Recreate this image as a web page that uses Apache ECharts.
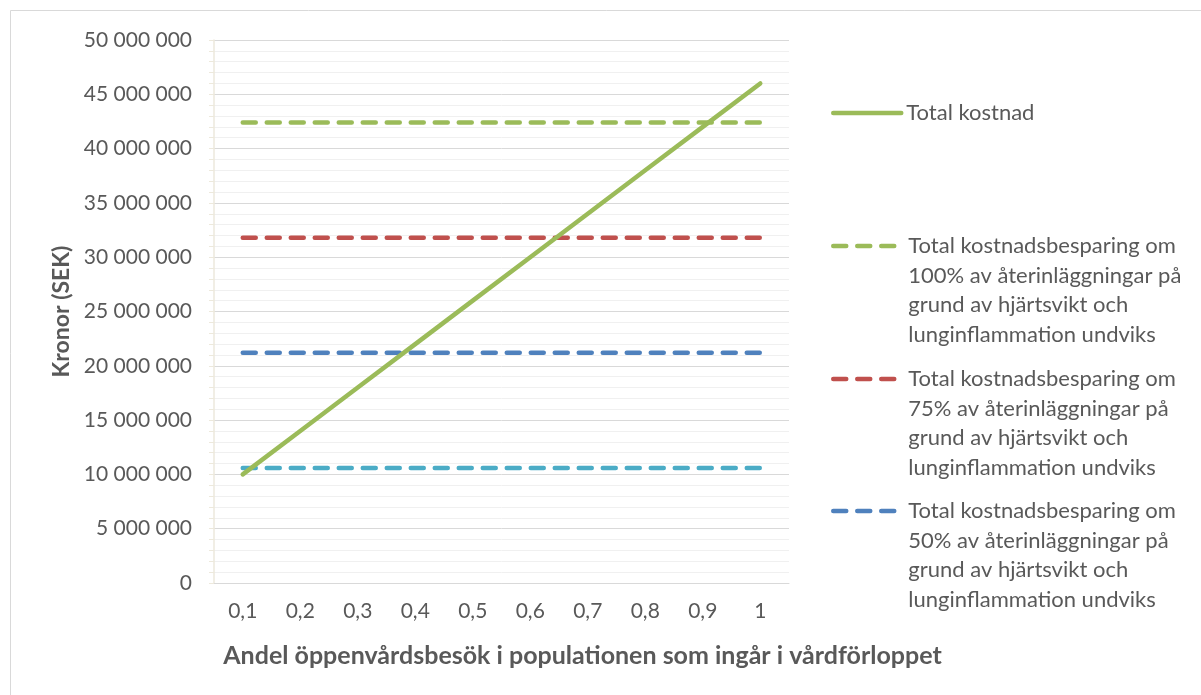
<!DOCTYPE html>
<html>
<head>
<meta charset="utf-8">
<script src="https://cdn.jsdelivr.net/npm/echarts@6/dist/echarts.min.js"></script>
<style>
html,body{margin:0;padding:0;background:#fff;}
#chart{width:1201px;height:695px;}
</style>
</head>
<body>
<div id="chart"></div>
<script>
const categories = ['0,1','0,2','0,3','0,4','0,5','0,6','0,7','0,8','0,9','1'];
const totalKostnad = [10000000,14000000,18000000,22000000,26000000,30000000,34000000,38000000,42000000,46000000];
const besparing100 = [42400000,42400000,42400000,42400000,42400000,42400000,42400000,42400000,42400000,42400000];
const besparing75  = [31800000,31800000,31800000,31800000,31800000,31800000,31800000,31800000,31800000,31800000];
const besparing50  = [21200000,21200000,21200000,21200000,21200000,21200000,21200000,21200000,21200000,21200000];
const besparing25  = [10600000,10600000,10600000,10600000,10600000,10600000,10600000,10600000,10600000,10600000];
const seriesNames = [
  'Total kostnad',
  'Total kostnadsbesparing om 100% av återinläggningar på grund av hjärtsvikt och lunginflammation undviks',
  'Total kostnadsbesparing om 75% av återinläggningar på grund av hjärtsvikt och lunginflammation undviks',
  'Total kostnadsbesparing om 50% av återinläggningar på grund av hjärtsvikt och lunginflammation undviks',
  'Total kostnadsbesparing om 25% av återinläggningar på grund av hjärtsvikt och lunginflammation undviks'
];
const colors = ['#9BBB59','#9BBB59','#C0504D','#4F81BD','#4BACC6'];
const FONT = 'Lato';
const TXT = '#595959';
const DASH = [13, 11];

function wrapName(n){
  if (n === seriesNames[0]) return n;
  const w = n.replace(' om ', ' om\n').replace(' på ', ' på\n').replace(' och ', ' och\n');
  return '\n\n\n' + w;
}
function fmtNum(v){
  return String(Math.round(v)).replace(/\B(?=(\d{3})+(?!\d))/g, ' ');
}
function mkSeries(i, data, dashed){
  return {
    name: seriesNames[i], type: 'line', data: data, symbol: 'none',
    color: colors[i],
    lineStyle: {width: 4.5, color: colors[i], type: dashed ? DASH : 'solid', cap: 'round'},
    animation: false
  };
}
function mkLegend(i, top, width){
  return {
    data: [seriesNames[i]], left: 831, top: top, padding: 0,
    itemWidth: width, itemHeight: 10,
    formatter: wrapName,
    lineStyle: {width: 4.5},
    itemStyle: {opacity: 0},
    textStyle: {fontFamily: FONT, fontSize: 22, color: TXT, lineHeight: 29.5},
    selectedMode: false
  };
}
const chart = echarts.init(document.getElementById('chart'), null, {renderer: 'canvas'});
chart.setOption({
  backgroundColor: '#fff',
  animation: false,
  graphic: [{type: 'rect', shape: {x: 10.5, y: 10.5, width: 1210, height: 710}, style: {fill: 'none', stroke: '#d9d9d9', lineWidth: 1}, silent: true}],
  grid: {left: 214, right: 412, top: 40, bottom: 112},
  legend: [
    mkLegend(0, 113 - 14.75, 68),
    mkLegend(1, 246 - 103.25, 70),
    mkLegend(2, 379 - 103.25, 70),
    mkLegend(3, 511 - 103.25, 70)
  ],
  xAxis: {
    type: 'category', data: categories, boundaryGap: true,
    name: 'Andel öppenvårdsbesök i populationen som ingår i vårdförloppet',
    nameLocation: 'middle', nameGap: 60,
    nameTextStyle: {fontFamily: FONT, fontSize: 25, fontWeight: 'bold', color: TXT, padding: [0, 0, 0, 162]},
    axisLine: {lineStyle: {color: '#d9d9d9', width: 1}},
    axisTick: {show: false},
    axisLabel: {fontFamily: FONT, fontSize: 21, color: TXT, margin: 18}
  },
  yAxis: {
    type: 'value', min: 0, max: 50000000, interval: 5000000,
    name: 'Kronor (SEK)', nameLocation: 'middle', nameGap: 141,
    nameTextStyle: {fontFamily: FONT, fontSize: 23, fontWeight: 'bold', color: TXT},
    axisLine: {show: true, lineStyle: {color: '#ede9dc', width: 1.5}},
    axisTick: {show: true, length: 5, lineStyle: {color: '#ede9dc'}},
    minorTick: {show: true, splitNumber: 5, length: 5, lineStyle: {color: '#ede9dc'}},
    splitLine: {show: true, lineStyle: {color: '#d9d9d9', width: 1}},
    minorSplitLine: {show: true, lineStyle: {color: '#f0f0f0', width: 1}},
    axisLabel: {fontFamily: FONT, fontSize: 21, color: TXT, margin: 22, formatter: fmtNum}
  },
  series: [
    mkSeries(1, besparing100, true),
    mkSeries(2, besparing75, true),
    mkSeries(3, besparing50, true),
    mkSeries(4, besparing25, true),
    mkSeries(0, totalKostnad, false)
  ]
});
</script>
</body>
</html>
